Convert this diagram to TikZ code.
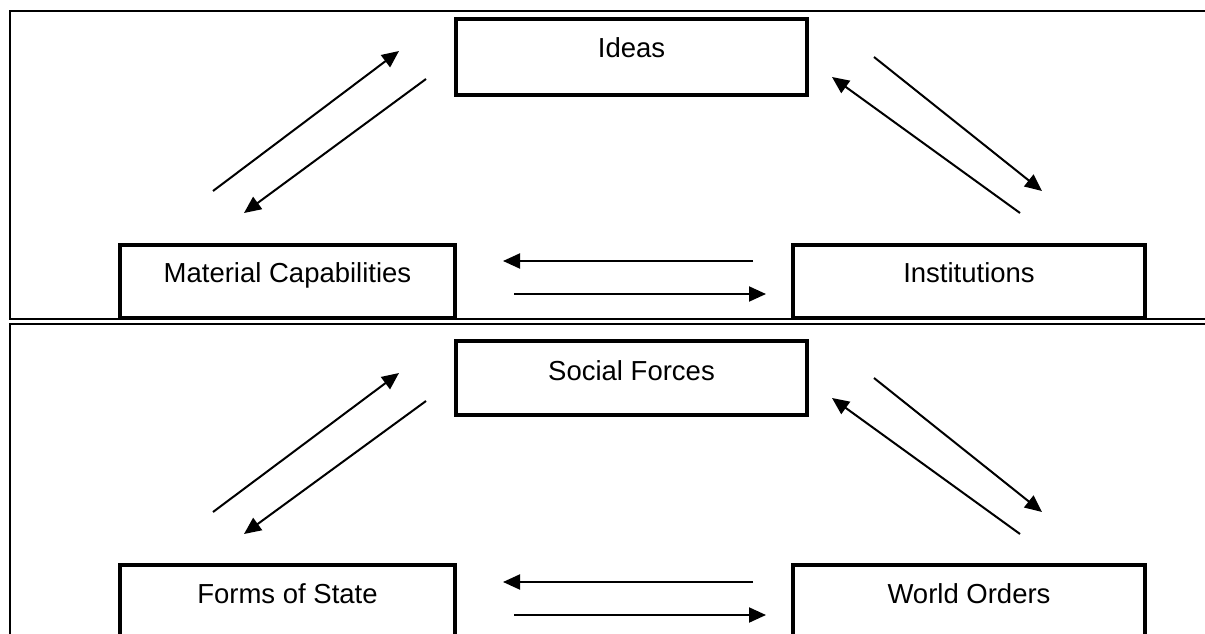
\documentclass[tikz,border=0pt]{standalone}
\usepackage{fontspec}
\setmainfont{Liberation Sans}
\usetikzlibrary{arrows.meta}

\begin{document}
\begin{tikzpicture}[x=1pt,y=-1pt,
  box/.style={draw=black, line width=4pt, rectangle, inner sep=0pt, fill=none},
  lbl/.style={anchor=base, inner sep=0pt, font=\fontsize{27.5}{33}\selectfont},
  frameline/.style={draw=black, line width=2.3pt, line join=miter},
  flow/.style={draw=black, line width=2pt, -{Triangle[length=17pt,width=15pt]}}
]
\useasboundingbox (0,0) rectangle (1205,634);

% panel frames
\draw[frameline] (1206,11) -- (10,11) -- (10,319) -- (1206,319);
\draw[frameline] (1206,324) -- (10,324) -- (10,640);

% upper panel boxes
\node[box, minimum width=351pt, minimum height=75.5pt] (ideas) at (631.5,57.25) {};
\node[box, minimum width=335pt, minimum height=73pt] (matcap) at (287.5,281.5) {};
\node[box, minimum width=352pt, minimum height=73pt] (inst) at (969,281.5) {};
\node[lbl] (ideasT) at (631.5,58) {Ideas};
\node[lbl] (matcapT) at (287.5,282) {Material Capabilities};
\node[lbl] (instT) at (969,282) {Institutions};

% lower panel boxes
\node[box, minimum width=351pt, minimum height=74pt] (social) at (631.5,378) {};
\node[box, minimum width=335pt, minimum height=75pt] (forms) at (287.5,602.5) {};
\node[box, minimum width=352pt, minimum height=75pt] (world) at (969,602.5) {};
\node[lbl] (socialT) at (631.5,380) {Social Forces};
\node[lbl] (formsT) at (287.5,603) {Forms of State};
\node[lbl] (worldT) at (969,603) {World Orders};

% arrow end points, upper panel
\coordinate (uA1) at (213,191);  \coordinate (uA2) at (399,51);
\coordinate (uB1) at (426,79);   \coordinate (uB2) at (244,213);
\coordinate (uC1) at (874,57);   \coordinate (uC2) at (1042,191);
\coordinate (uD1) at (1020,213); \coordinate (uD2) at (832,77);
\coordinate (uE1) at (753,261);  \coordinate (uE2) at (503,261);
\coordinate (uF1) at (514,294);  \coordinate (uF2) at (766,294);

% arrow end points, lower panel
\coordinate (lA1) at (213,512);  \coordinate (lA2) at (399,373);
\coordinate (lB1) at (426,401);  \coordinate (lB2) at (244,534);
\coordinate (lC1) at (874,378);  \coordinate (lC2) at (1042,512);
\coordinate (lD1) at (1020,534); \coordinate (lD2) at (832,398);
\coordinate (lE1) at (753,582);  \coordinate (lE2) at (503,582);
\coordinate (lF1) at (514,615);  \coordinate (lF2) at (766,615);

% arrows
\foreach \p in {u,l}{
  \foreach \a in {A,B,C,D,E,F}{
    \draw[flow] (\p\a1) -- (\p\a2);
  }
}
\end{tikzpicture}
\end{document}
